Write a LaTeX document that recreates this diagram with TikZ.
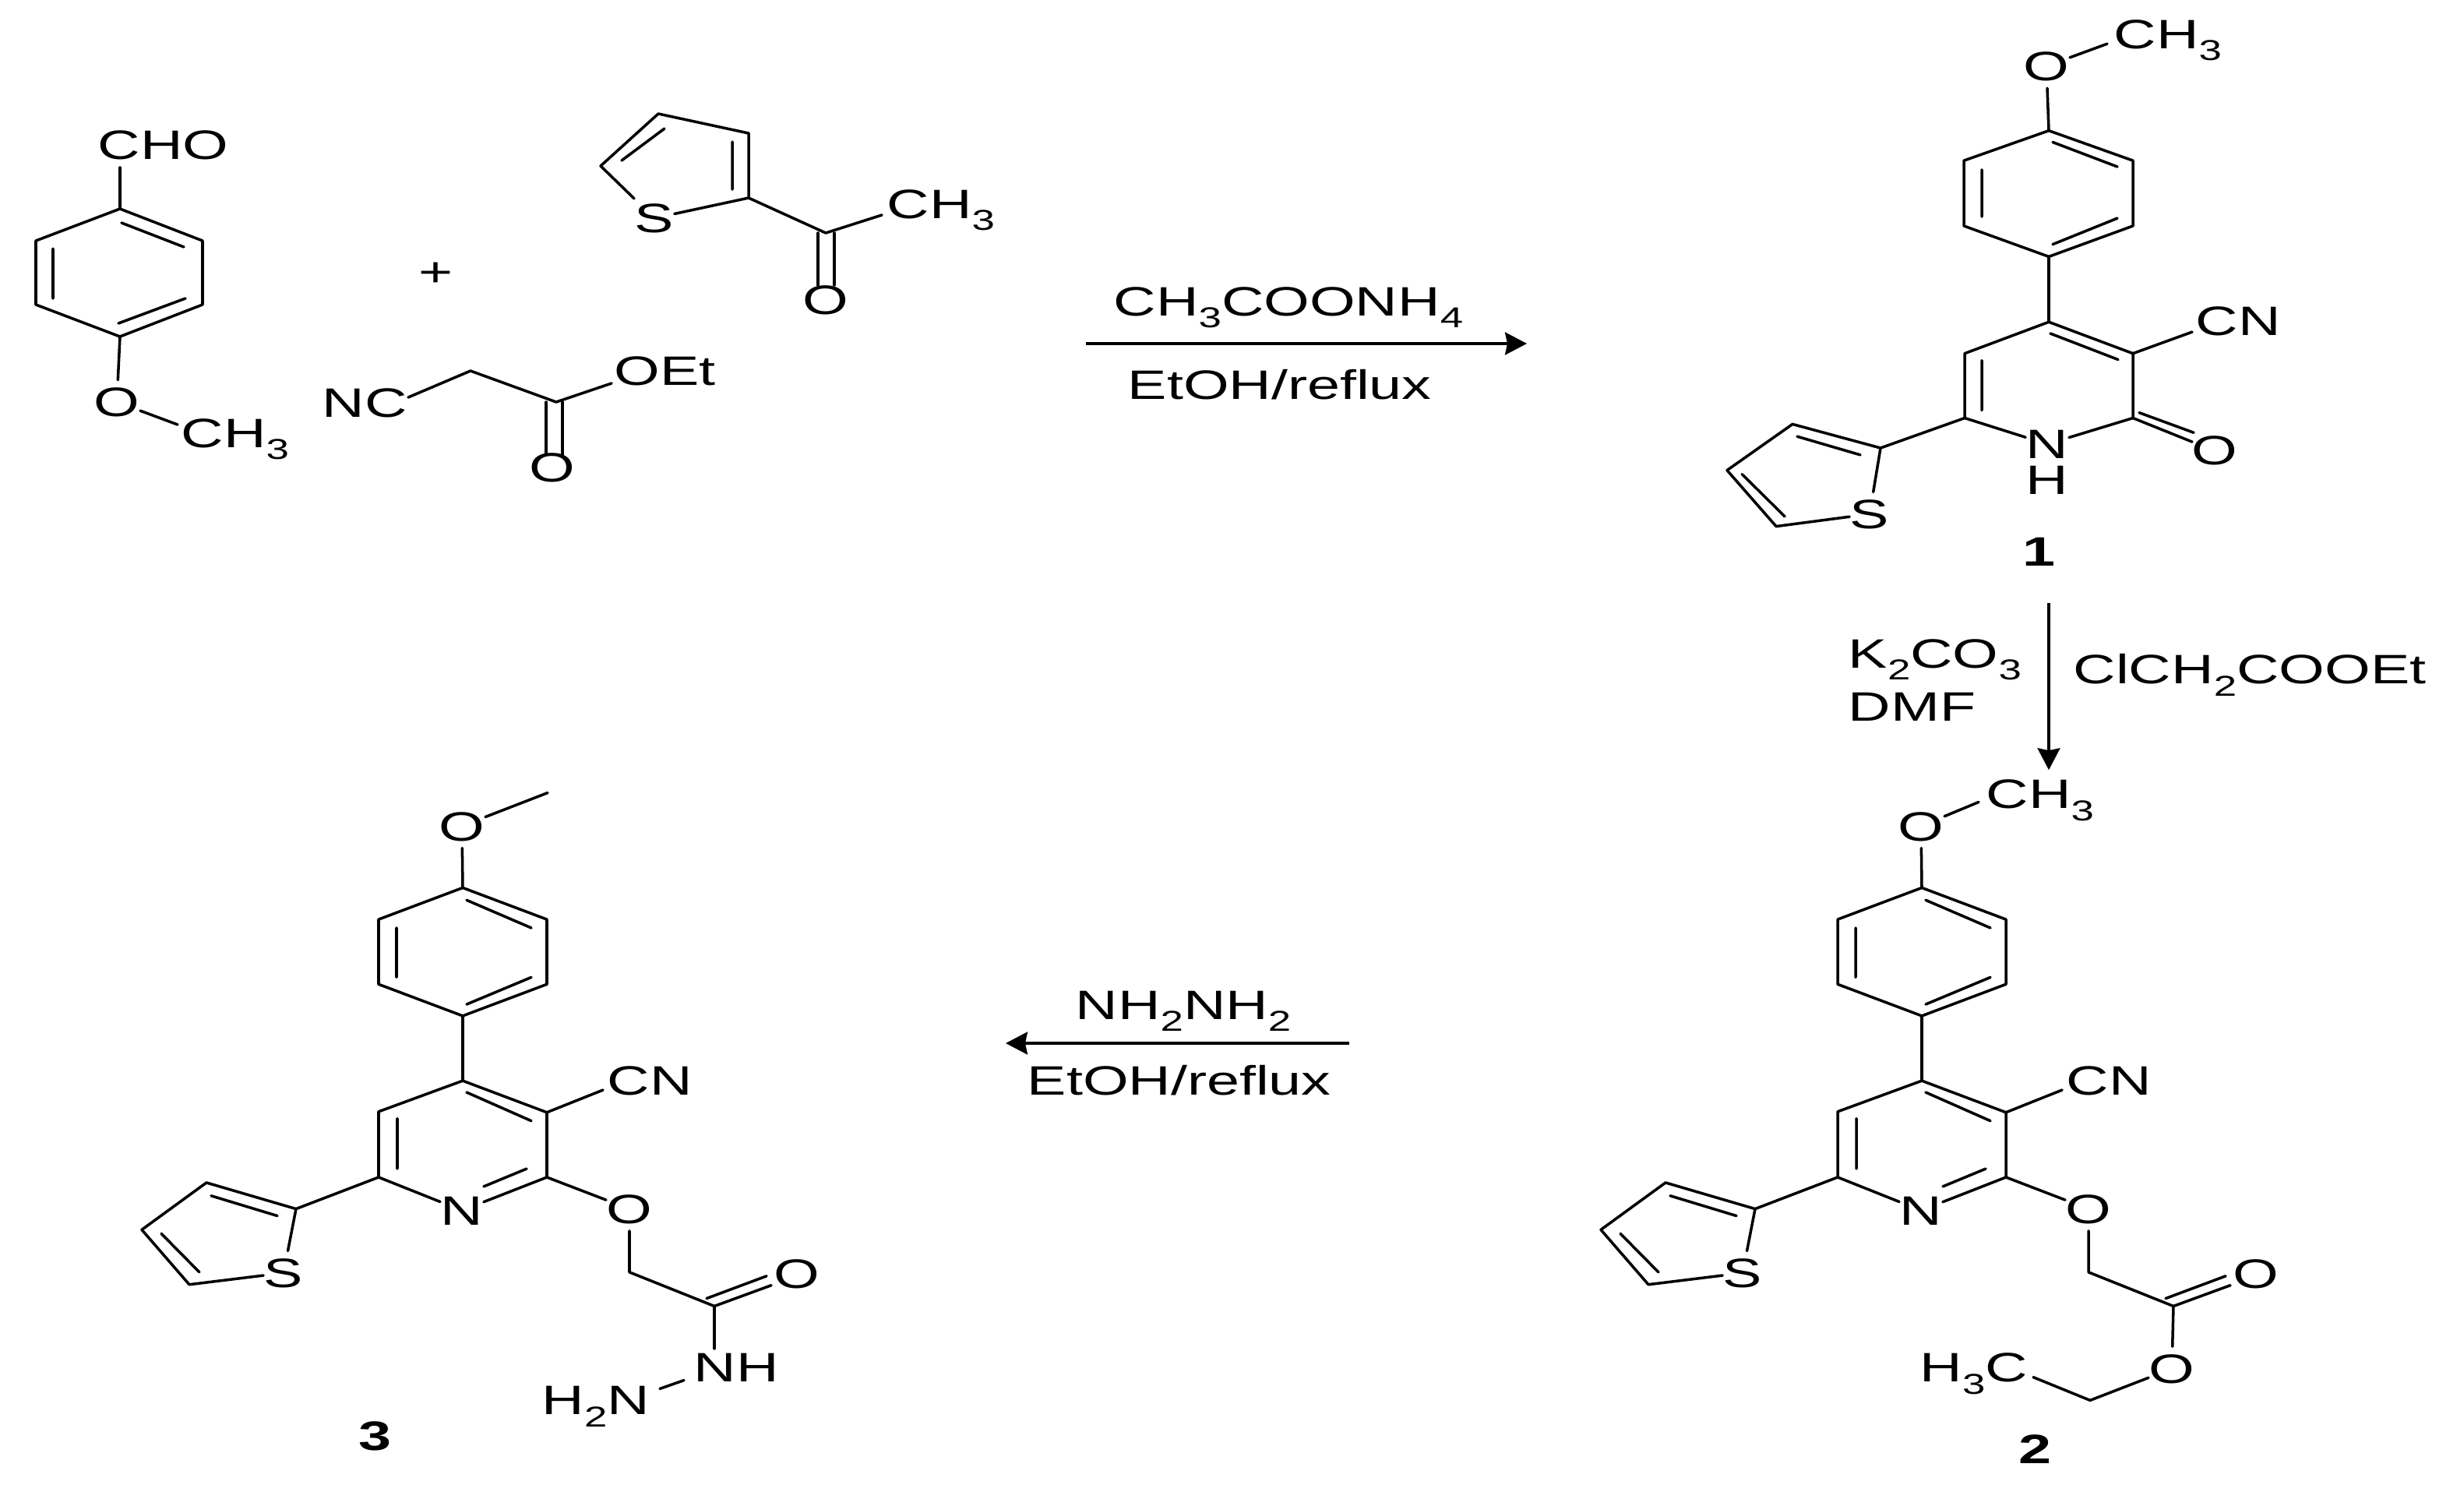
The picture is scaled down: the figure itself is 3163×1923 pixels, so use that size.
\documentclass[tikz,border=0pt]{standalone}
\usepackage{fontspec}
\setmainfont[FakeStretch=1.43]{Liberation Sans}
\usetikzlibrary{arrows.meta}
\newcommand\sbs[1]{\raisebox{-0.3em}{\fontsize{10.5}{11}\selectfont #1}}
\tikzset{
  bond/.style={line width=1pt,line cap=round,line join=round,black},
  atom/.style={anchor=center,inner xsep=0pt,inner ysep=2.5pt,text height=10.7pt,text depth=0pt,font=\fontsize{15}{16}\selectfont},
  lab/.style={anchor=base west,inner sep=0pt,font=\fontsize{15}{16}\selectfont},
  num/.style={anchor=center,inner sep=0pt,font=\fontsize{15}{16}\selectfont\bfseries},
  rxn/.style={line width=0.9pt,black,-{Stealth[length=0.28cm,width=0.29cm,inset=0.03cm]}}
}
\newcommand\pyridinecore[2]{%
\begin{scope}[shift={(#2,0)}]
  \node[atom] (#1O) at (2468,1061) {O};
  \coordinate (#1r1) at (2469,1141);
  \coordinate (#1r2) at (2577,1182);
  \coordinate (#1r3) at (2577,1266);
  \coordinate (#1r4) at (2469,1307);
  \coordinate (#1r5) at (2361,1266);
  \coordinate (#1r6) at (2361,1182);
  \draw[bond] (#1r1) -- (#1r2) -- (#1r3) -- (#1r4) -- (#1r5) -- (#1r6) -- cycle;
  \draw[bond] (2474,1157) -- (2557,1193) (2384,1193) -- (2384,1257) (2474,1292) -- (2557,1257);
  \draw[bond] (#1O) -- (#1r1);
  \coordinate (#1p1) at (2469,1391);
  \coordinate (#1p2) at (2577,1432);
  \coordinate (#1p3) at (2577,1516);
  \node[atom] (#1N) at (2468,1559) {N};
  \coordinate (#1p5) at (2361,1516);
  \coordinate (#1p6) at (2361,1431);
  \draw[bond] (#1N) -- (#1p3) -- (#1p2) -- (#1p1) -- (#1p6) -- (#1p5) -- (#1N);
  \draw[bond] (#1r4) -- (#1p1);
  \draw[bond] (2474,1406) -- (2557,1443) (2385,1440) -- (2385,1505) (2496,1528) -- (2551,1505);
  \node[lab] (#1CN) at (2654,1409) {CN};
  \coordinate (#1cnb) at (2649,1403);
  \draw[bond] (#1p2) -- (#1cnb);
  \node[atom] (#1Oa) at (2683,1557) {O};
  \draw[bond] (#1p3) -- (#1Oa);
  \coordinate (#1m) at (2683,1639);
  \coordinate (#1c) at (2792,1683);
  \draw[bond] (#1Oa) -- (#1m) -- (#1c);
  \node[atom] (#1Ob) at (2898,1641) {O};
  \draw[bond] (#1c) -- (2865,1656) (2782,1673) -- (2859,1644);
  \node[atom] (#1S) at (2239,1640) {S};
  \coordinate (#1t2) at (2255,1557);
  \coordinate (#1t3) at (2140,1523);
  \coordinate (#1t4) at (2057,1584);
  \coordinate (#1t5) at (2118,1655);
  \draw[bond] (#1S) -- (#1t2) -- (#1t3) -- (#1t4) -- (#1t5) -- (#1S);
  \draw[bond] (#1p5) -- (#1t2);
  \draw[bond] (2146,1540) -- (2231,1566) (2082,1589) -- (2131,1639);
\end{scope}}
\begin{document}
\begin{tikzpicture}[x=0.01cm,y=-0.01cm]
\useasboundingbox (0,0) rectangle (3163,1923);
% anisaldehyde
\node[lab] (cho) at (125,204) {CHO};
\coordinate (aA) at (154,268);
\coordinate (aB) at (260,309);
\coordinate (aC) at (260,391);
\coordinate (aD) at (154,432);
\coordinate (aE) at (46,391);
\coordinate (aF) at (46,309);
\coordinate (aCHOb) at (154,215);
\draw[bond] (aA) -- (aB) -- (aC) -- (aD) -- (aE) -- (aF) -- cycle;
\draw[bond] (156,286) -- (236,317) (68,319) -- (68,383) (152,415) -- (238,383);
\draw[bond] (aCHOb) -- (aA);
\node[atom] (aO) at (150,516) {O};
\draw[bond] (aD) -- (aO);
\node[lab] (aMe) at (232,574) {CH\sbs{3}};
\coordinate (aMeb) at (228,545);
\draw[bond] (aO) -- (aMeb);
% plus
\node[anchor=center,inner sep=0pt,font=\fontsize{15}{16}\selectfont] (plus) at (560,352) {+};
% acetylthiophene
\node[atom] (kS) at (840,280) {S};
\coordinate (k1) at (961,254);
\coordinate (k2) at (961,171);
\coordinate (k3) at (845,146);
\coordinate (k4) at (771,213);
\draw[bond] (kS) -- (k1) -- (k2) -- (k3) -- (k4) -- (kS);
\draw[bond] (853,165) -- (798,206) (940,182) -- (940,243);
\coordinate (kC) at (1060,299);
\coordinate (kMeb) at (1132,276);
\draw[bond] (k1) -- (kC) -- (kMeb);
\node[lab] (kMe) at (1138,280) {CH\sbs{3}};
\node[atom] (kO) at (1060,385) {O};
\draw[bond] (1050,299) -- (1050,366) (1071,299) -- (1071,366);
% ethyl cyanoacetate
\node[lab] (nc) at (413,535) {NC};
\coordinate (ncb) at (524,510);
\coordinate (ncm) at (604,476);
\coordinate (ncc) at (714,516);
\coordinate (ncob) at (785,492);
\draw[bond] (ncb) -- (ncm) -- (ncc) -- (ncob);
\node[lab] (oet) at (788,494) {OEt};
\draw[bond] (701,516) -- (701,584) (722,516) -- (722,584);
\node[atom] (ncO) at (709,600) {O};
% arrow 1
\coordinate (ar1a) at (1394,441);
\coordinate (ar1b) at (1960,441);
\draw[rxn] (ar1a) -- (ar1b);
\node[lab] (ra) at (1429,405) {CH\sbs{3}COONH\sbs{4}};
\node[lab] (rb) at (1447,512) {EtOH/reflux};
% compound 1 and its arrow
\begin{scope}[y=-0.00985cm,xshift=-0.02cm]
\node[lab] (c1Me) at (2715,63) {CH\sbs{3}};
\node[atom] (c1O) at (2629,86) {O};
\coordinate (c1Meb) at (2707,57);
\draw[bond] (c1O) -- (c1Meb);
\coordinate (c1r1) at (2632,170);
\coordinate (c1r2) at (2740,209);
\coordinate (c1r3) at (2740,294);
\coordinate (c1r4) at (2632,334);
\coordinate (c1r5) at (2523,294);
\coordinate (c1r6) at (2523,209);
\draw[bond] (c1r1) -- (c1r2) -- (c1r3) -- (c1r4) -- (c1r5) -- (c1r6) -- cycle;
\draw[bond] (2637,185) -- (2720,217) (2546,221) -- (2546,282) (2637,318) -- (2720,284);
\draw[bond] (c1O) -- (c1r1);
\coordinate (c1p1) at (2632,419);
\coordinate (c1p2) at (2740,460);
\coordinate (c1p3) at (2740,544);
\node[atom] (c1N) at (2630,578) {N};
\node[atom] (c1H) at (2630,624) {H};
\coordinate (c1p5) at (2524,544);
\coordinate (c1p6) at (2524,460);
\draw[bond] (c1N) -- (c1p3) -- (c1p2) -- (c1p1) -- (c1p6) -- (c1p5) -- (c1N);
\draw[bond] (c1r4) -- (c1p1);
\draw[bond] (2634,434) -- (2721,468) (2546,469) -- (2546,534);
\node[lab] (c1CN) at (2820,436) {CN};
\coordinate (c1cnb) at (2816,432);
\draw[bond] (c1p2) -- (c1cnb);
\node[atom] (c1Oc) at (2845,586) {O};
\draw[bond] (c1p3) -- (2816,575) (2748,537) -- (2818,563);
\node[atom] (c1S) at (2402,669) {S};
\coordinate (c1t2) at (2416,583);
\coordinate (c1t3) at (2303,552);
\coordinate (c1t4) at (2219,612);
\coordinate (c1t5) at (2282,685);
\draw[bond] (c1S) -- (c1t2) -- (c1t3) -- (c1t4) -- (c1t5) -- (c1S);
\draw[bond] (c1p5) -- (c1t2);
\draw[bond] (2309,568) -- (2390,592) (2238,617) -- (2293,672);
\node[num] (n1) at (2619,718) {1};
\coordinate (ar2a) at (2632,785);
\coordinate (ar2b) at (2632,1002);
\draw[rxn] (ar2a) -- (ar2b);
\node[lab] (rc) at (2374,869) {K\sbs{2}CO\sbs{3}};
\node[lab] (rd) at (2374,938) {DMF};
\node[lab] (re) at (2663,890) {ClCH\sbs{2}COOEt};
\end{scope}
% compounds 2 and 3
\begin{scope}[y=-0.009909cm,yshift=-0.089cm,xshift=-0.02cm]
\pyridinecore{b}{0}
\node[lab] (c2Me) at (2551,1038) {CH\sbs{3}};
\coordinate (c2Meb) at (2542,1030);
\draw[bond] (bO) -- (c2Meb);
\node[atom] (c2O) at (2790,1764) {O};
\draw[bond] (bc) -- (c2O);
\coordinate (c2m) at (2685,1805);
\coordinate (c2eb) at (2612,1775);
\draw[bond] (c2O) -- (c2m) -- (c2eb);
\node[lab] (c2Et) at (2466,1781) {H\sbs{3}C};
\node[num] (n2) at (2614,1868) {2};
\pyridinecore{c}{-1873}
\coordinate (c3Meb) at (705,1018);
\draw[bond] (cO) -- (c3Meb);
\node[lab] (c3NH) at (892,1781) {NH};
\coordinate (c3Nb) at (919,1738);
\draw[bond] (cc) -- (c3Nb);
\node[lab] (c3H2N) at (697,1823) {H\sbs{2}N};
\coordinate (c3b1) at (849,1790);
\coordinate (c3b2) at (880,1779);
\draw[bond] (c3b1) -- (c3b2);
\node[num] (n3) at (483,1851) {3};
\end{scope}
% arrow 3
\coordinate (ar3a) at (1732,1339);
\coordinate (ar3b) at (1291,1339);
\draw[rxn] (ar3a) -- (ar3b);
\node[lab] (rf) at (1380,1308) {NH\sbs{2}NH\sbs{2}};
\node[lab] (rg) at (1318,1405) {EtOH/reflux};
\end{tikzpicture}
\end{document}
